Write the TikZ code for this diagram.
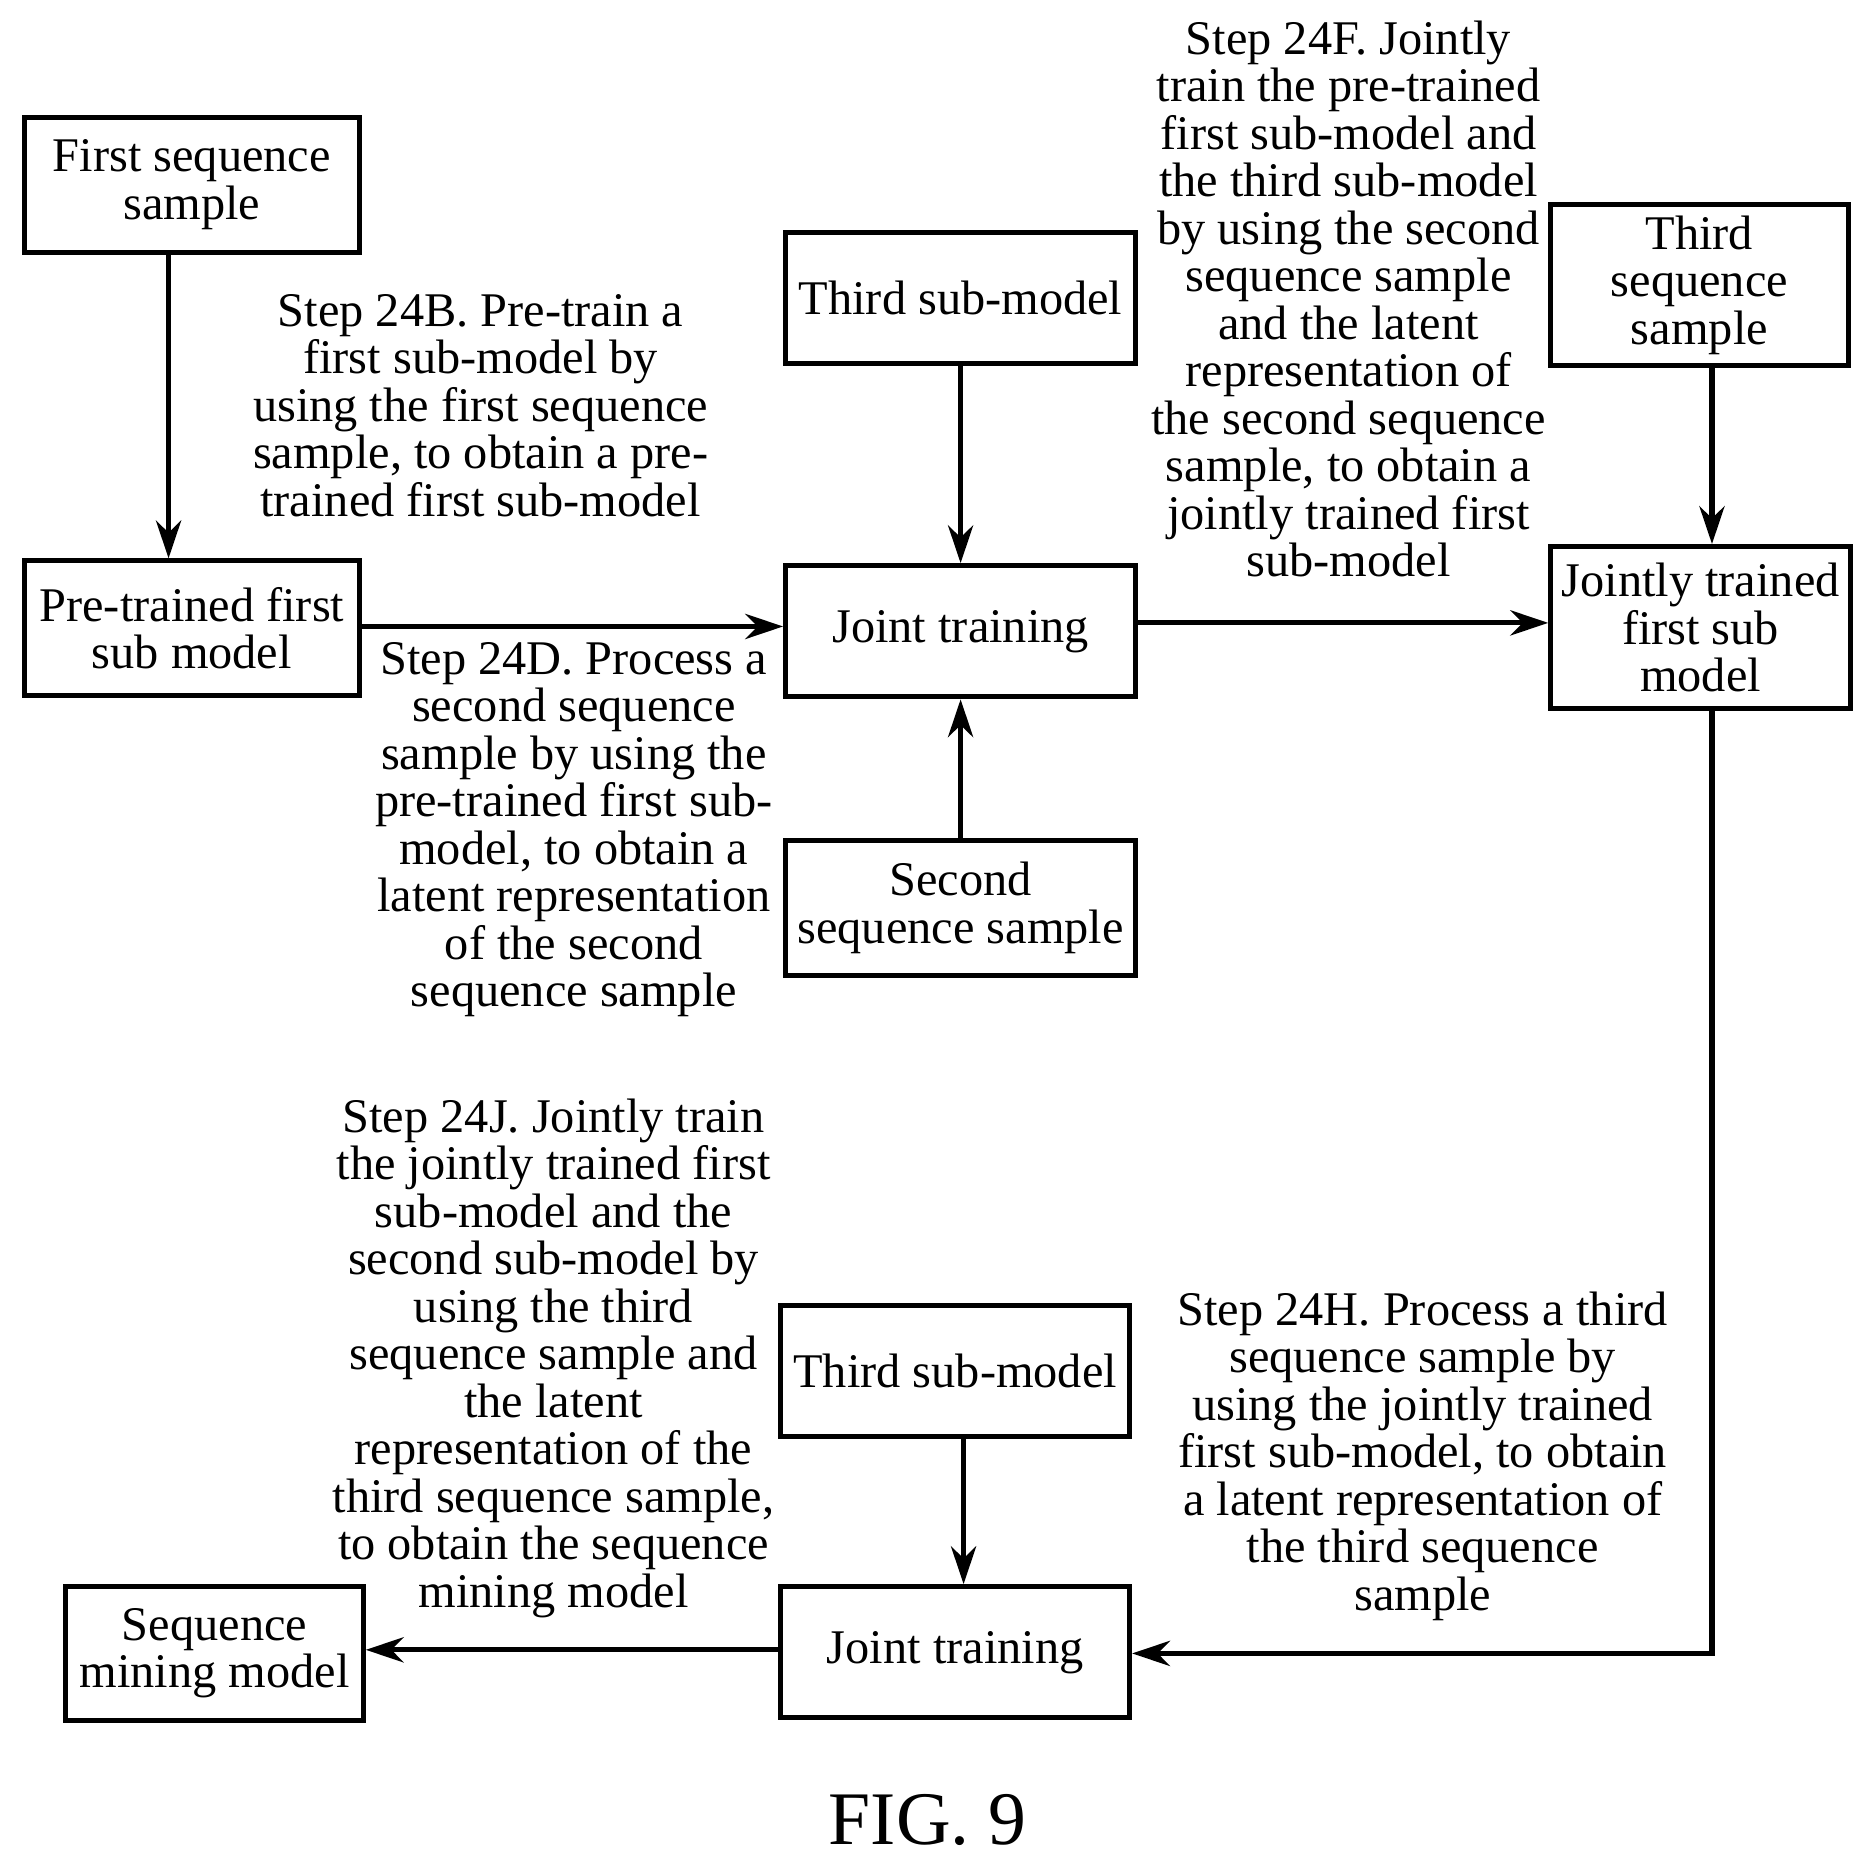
\documentclass[tikz,border=0pt]{standalone}
\usepackage{fontspec}
\setmainfont{Liberation Serif}
\usetikzlibrary{arrows.meta}
\begin{document}
\begin{tikzpicture}[x=0.01cm,y=-0.01cm,
  box/.style={draw,line width=1.2pt,inner sep=0pt,align=center,font=\fontsize{11.5}{11.3}\selectfont},
  lab/.style={align=center,inner sep=0pt,font=\fontsize{11.5}{11.3}\selectfont},
  arr/.style={line width=1.2pt,-{Stealth[length=9pt,width=6pt]}}]
\useasboundingbox (0,0) rectangle (1560,1553);
\newcommand{\bx}[6]{\node[box,minimum width=#4*0.01cm-1.2pt,minimum height=#5*0.01cm-1.2pt] (#1) at ({(#2+#4/2)},{(#3+#5/2)}) {#6};}
\bx{fs}{18}{96}{285}{117}{First sequence\\sample}
\bx{pt}{18}{467}{285}{117}{Pre-trained first\\sub model}
\bx{tsm}{655}{192}{297}{114}{Third sub-model}
\bx{jt}{655}{471}{297}{114}{Joint training}
\bx{ss}{655}{701}{297}{117}{Second\\sequence sample}
\bx{ts}{1295}{169}{253}{139}{Third\\sequence\\sample}
\bx{jtf}{1295}{455}{255}{140}{Jointly trained\\first sub\\model}
\bx{tsm2}{651}{1090}{296}{114}{Third sub-model}
\bx{jt2}{651}{1325}{296}{114}{Joint training}
\bx{smm}{53}{1325}{253}{116}{Sequence\\mining model}
\coordinate (c1) at (1432,1383);
\draw[arr] (fs.south -| 141,0) -- (pt.north -| 141,0);
\draw[arr] (pt.east |- 0,524) -- (jt.west |- 0,524);
\draw[arr] (tsm) -- (jt);
\draw[arr] (ss) -- (jt);
\draw[arr] (jt.east |- 0,521) -- (jtf.west |- 0,521);
\draw[arr] (ts.south -| 1432,0) -- (jtf.north -| 1432,0);
\draw[arr] (jtf.south -| 1432,0) -- (c1) -- (jt2.east |- c1);
\draw[arr] (tsm2.south -| 806,0) -- (jt2.north -| 806,0);
\draw[arr] (jt2.west |- 0,1380) -- (smm.east |- 0,1380);
\node[lab] (l24b) at (402,339) {Step 24B. Pre-train a\\first sub-model by\\using the first sequence\\sample, to obtain a pre-\\trained first sub-model};
\node[lab] (l24d) at (480,694) {Step 24D. Process a\\second sequence\\sample by using the\\pre-trained first sub-\\model, to obtain a\\latent representation\\of the second\\sequence sample};
\node[lab] (l24f) at (1128,250) {Step 24F. Jointly\\train the pre-trained\\first sub-model and\\the third sub-model\\by using the second\\sequence sample\\and the latent\\representation of\\the second sequence\\sample, to obtain a\\jointly trained first\\sub-model};
\node[lab] (l24h) at (1190,1218) {Step 24H. Process a third\\sequence sample by\\using the jointly trained\\first sub-model, to obtain\\a latent representation of\\the third sequence\\sample};
\node[lab] (l24j) at (463,1136) {Step 24J. Jointly train\\the jointly trained first\\sub-model and the\\second sub-model by\\using the third\\sequence sample and\\the latent\\representation of the\\third sequence sample,\\to obtain the sequence\\mining model};
\node[inner sep=0pt,font=\fontsize{18}{18}\selectfont] (fig) at (776,1522) {FIG. 9};
\end{tikzpicture}
\end{document}
